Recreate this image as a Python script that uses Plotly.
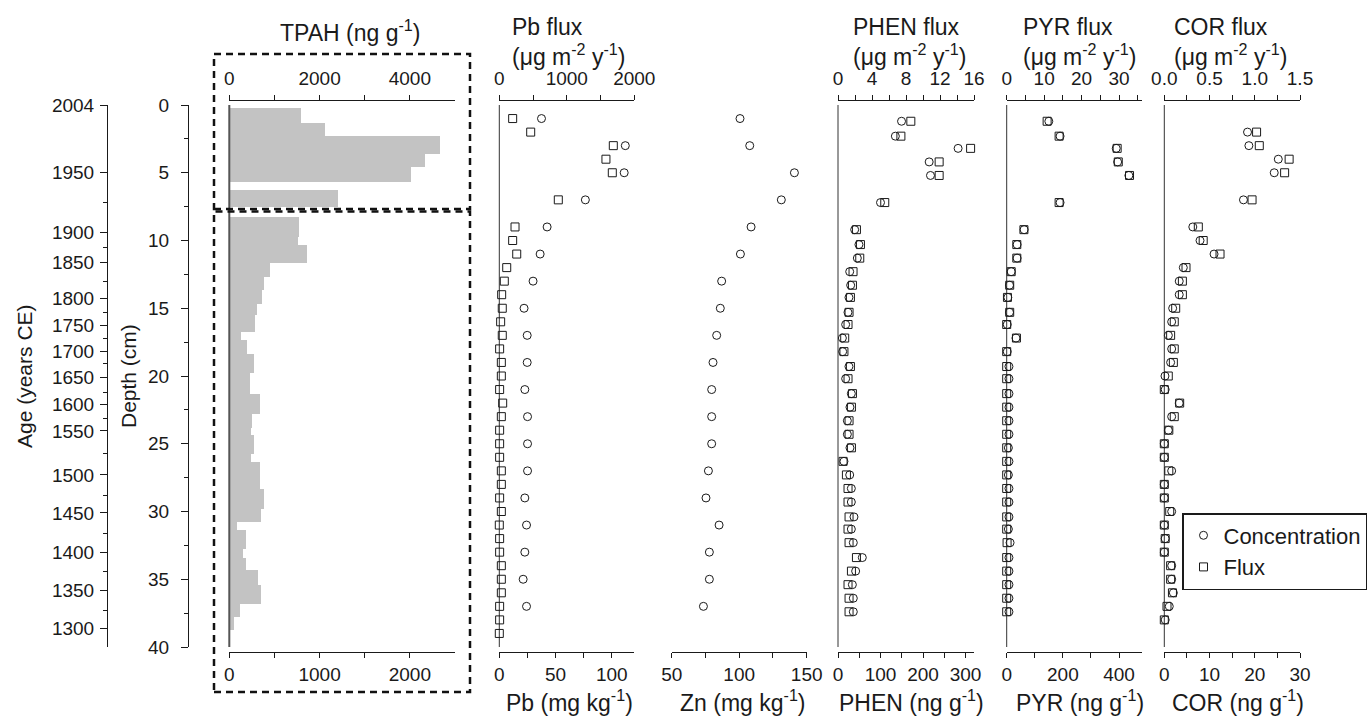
import plotly.graph_objects as go

W, H = 1369, 719

# ---------------- data ----------------
age_years = [2004, 1950, 1900, 1850, 1800, 1750, 1700, 1650, 1600, 1550, 1500, 1450, 1400, 1350, 1300]
age_depth = [0.0, 5.0, 9.4, 11.6, 14.25, 16.25, 18.2, 20.1, 22.1, 24.05, 27.3, 30.1, 33.0, 35.8, 38.6]
age_minor_depth = [7.2, 10.5, 13.0, 15.3, 17.2, 19.05, 21.2, 23.1, 25.7, 28.8, 31.6, 34.4, 37.3]

# TPAH (ng/g) stair bars: upper section (0-5000 scale) and lower section (0-2500 scale)
tpah_top_from = [0.25, 1.3, 2.3, 3.6, 4.6, 6.3]
tpah_top_to = [1.3, 2.3, 3.6, 4.6, 5.65, 7.55]
tpah_top_val = [1590, 2130, 4680, 4350, 4040, 2410]

tpah_bot_edges = [8.25, 9.73, 10.34, 11.69, 12.68, 13.66, 14.65, 15.51, 16.74, 17.36, 18.34,
                  19.75, 21.35, 22.77, 23.81, 24.37, 25.78, 26.35, 28.31, 29.79, 30.78, 31.39,
                  32.74, 33.41, 34.34, 35.45, 36.8, 37.79, 38.77]
tpah_bot_val = [779, 765, 860, 449, 386, 360, 309, 290, 132, 199, 279, 228, 346, 254, 239,
                279, 239, 346, 386, 357, 92, 184, 154, 184, 320, 357, 118, 51]

# Pb / Zn
metal_conc_depth = [1, 3, 5, 7, 9, 11, 13, 15, 17, 19, 21, 23, 25, 27, 29, 31, 33, 35, 37]
pb_conc = [37.5, 112, 111, 76.5, 42.5, 36.3, 30, 22, 24.8, 24.8, 22.7, 25.1, 25.1, 25.1,
           22.7, 24.2, 22.7, 21.2, 24.2]
zn_conc = [100.6, 107.8, 140.9, 131.2, 108.8, 100.9, 87.0, 86.0, 83.3, 80.6, 79.6, 79.6,
           79.6, 77.2, 75.4, 85.1, 77.9, 77.9, 73.5]
pb_flux_depth = [1, 2, 3, 4, 5, 7, 9, 10, 11, 12, 13, 14, 15, 16, 17, 18, 19, 20, 21, 22, 23,
                 24, 25, 26, 27, 28, 29, 30, 31, 32, 33, 34, 35, 36, 37, 38, 39]
pb_flux = [198, 465, 1689, 1580, 1674, 874, 233, 198, 258, 110, 74, 35, 44, 20, 44, 5, 30,
           30, 5, 50, 30, 5, 5, 5, 30, 30, 5, 30, 0, 5, 5, 30, 30, 30, 5, 5, 0]

# PAHs
pah_depth = [1.2, 2.3, 3.2, 4.2, 5.2, 7.2, 9.2, 10.3, 11.3, 12.3, 13.3, 14.2, 15.3, 16.2,
             17.2, 18.2, 19.3, 20.2, 21.3, 22.3, 23.3, 24.3, 25.3, 26.3, 27.3, 28.3, 29.3,
             30.4, 31.3, 32.3, 33.4, 34.4, 35.4, 36.4, 37.4]
phen_conc = [149.5, 135, 282.6, 214.5, 217.6, 100, 39.2, 49.3, 45.5, 27.5, 29.8, 25.8, 23.5,
             18, 10.3, 11, 25.8, 18, 31.4, 28.2, 22, 22, 28.2, 14, 27.5, 31.4, 31.4, 37.6,
             31.4, 36, 57.2, 41.5, 33.8, 36, 36]
phen_flux = [8.57, 7.4, 15.6, 11.9, 11.9, 5.5, 2.17, 2.64, 2.56, 1.77, 1.7, 1.46, 1.3, 1.18,
             0.79, 0.7, 1.46, 1.18, 1.7, 1.58, 1.3, 1.3, 1.58, 0.6, 0.99, 1.18, 1.18, 1.3,
             1.18, 1.3, 2.17, 1.58, 1.18, 1.3, 1.3]
pyr_conc = [150, 190, 390, 395, 435, 190, 62, 37, 37, 16, 10, 4, 10, 2, 33, 2, 8, 8, 8, 8,
            8, 8, 6, 8, 6, 8, 8, 8, 6, 12, 8, 8, 8, 8, 8]
pyr_flux = [10.8, 14.0, 29.5, 29.8, 32.8, 14.0, 4.6, 2.7, 2.7, 1.2, 0.8, 0.2, 0.8, 0.0, 2.6,
            0.0, 0.0, 0.0, 0.0, 0.0, 0.0, 0.0, 0.0, 0.0, 0.0, 0.0, 0.0, 0.0, 0.0, 0.1, 0.0,
            0.0, 0.0, 0.0, 0.0]
cor_depth = [2, 3, 4, 5, 7, 9, 10, 11, 12, 13, 14, 15, 16, 17, 18, 19, 20, 21, 22, 23, 24,
             25, 26, 27, 28, 29, 30, 31, 32, 33, 34, 35, 36, 37, 38]
cor_conc = [18.4, 18.7, 25.2, 24.3, 17.5, 6.3, 7.9, 11.0, 4.2, 3.3, 3.3, 1.85, 1.63, 0.9,
            1.63, 1.4, 0.15, 0.2, 3.3, 1.63, 0.9, 0, 0, 1.63, 0, 0, 1.63, 0, 0.2, 0, 1.63,
            1.63, 2.0, 1.1, 0.2]
cor_flux = [1.02, 1.05, 1.38, 1.33, 0.97, 0.376, 0.43, 0.616, 0.24, 0.2, 0.2, 0.126, 0.11,
            0.07, 0.11, 0.1, 0.044, 0.0, 0.17, 0.11, 0.05, 0, 0, 0.05, 0, 0, 0.06, 0, 0.01,
            0, 0.07, 0.07, 0.09, 0.03, 0]

# ---------------- styling helpers ----------------
FONT = "Liberation Sans, Arial, Helvetica, sans-serif"
INK = "#1a1a1a"
TICK_FS = 19
TITLE_FS = 23
TOP_AX_Y = 100
BOT_AX_Y = 651.7


def px_x(p):
    return p / W


def px_y(p):
    return 1 - p / H


def xax(dom, rng, tickvals, ticktext, side, show_labels=True):
    return dict(
        domain=[px_x(dom[0]), px_x(dom[1])], range=rng, anchor="free",
        position=px_y(TOP_AX_Y if side == "top" else BOT_AX_Y), side=side,
        tickmode="array", tickvals=tickvals, ticktext=ticktext,
        ticks="outside", ticklen=5, tickwidth=1, tickcolor=INK,
        showline=True, linecolor=INK, linewidth=1,
        showgrid=False, zeroline=False, showticklabels=show_labels, automargin=False,
        ticklabelstandoff=(2 if side == "top" else 0),
        tickfont=dict(size=TICK_FS, color=INK, family=FONT), fixedrange=True,
    )


fig = go.Figure()

# TPAH bars
fig.add_trace(go.Bar(
    orientation="h", xaxis="x", yaxis="y",
    x=tpah_top_val,
    y=[(a + b) / 2 for a, b in zip(tpah_top_from, tpah_top_to)],
    width=[b - a for a, b in zip(tpah_top_from, tpah_top_to)],
    marker=dict(color="#c3c3c3", line=dict(width=0)), showlegend=False, hoverinfo="skip",
))
fig.add_trace(go.Bar(
    orientation="h", xaxis="x2", yaxis="y",
    x=tpah_bot_val,
    y=[(a + b) / 2 for a, b in zip(tpah_bot_edges[:-1], tpah_bot_edges[1:])],
    width=[b - a for a, b in zip(tpah_bot_edges[:-1], tpah_bot_edges[1:])],
    marker=dict(color="#c3c3c3", line=dict(width=0)), showlegend=False, hoverinfo="skip",
))

MS = 8
circ = dict(symbol="circle-open", size=MS, color=INK, line=dict(width=1, color=INK))
sq = dict(symbol="square-open", size=MS, color=INK, line=dict(width=1, color=INK))


def pts(x, y, xa, marker, name=None, legend=False):
    fig.add_trace(go.Scatter(
        x=x, y=y, xaxis=xa, yaxis="y", mode="markers", marker=marker,
        name=name, showlegend=legend, cliponaxis=False, hoverinfo="skip",
    ))


# Pb
pts(pb_conc, metal_conc_depth, "x4", circ, "Concentration", True)
pts(pb_flux, pb_flux_depth, "x3", sq, "Flux", True)
# Zn
pts(zn_conc, metal_conc_depth, "x6", circ)
# PHEN
pts(phen_conc, pah_depth, "x8", circ)
pts(phen_flux, pah_depth, "x7", sq)
# PYR
pts(pyr_conc, pah_depth, "x10", circ)
pts(pyr_flux, pah_depth, "x9", sq)
# COR
pts(cor_conc, cor_depth, "x12", circ)
pts(cor_flux, cor_depth, "x11", sq)

# age axis carrier
fig.add_trace(go.Scatter(x=[None], y=[None], xaxis="x", yaxis="y2", mode="markers",
                         showlegend=False, hoverinfo="skip"))

# ---------------- axes ----------------
dom_tpah = (229.3, 455)
dom_pb = (499.3, 634.3)
dom_zn = (671.7, 806.7)
dom_phen = (838.0, 974.0)
dom_pyr = (1006.7, 1141.5)
dom_cor = (1164.3, 1300.0)

layout_axes = dict(
    xaxis=xax(dom_tpah, [0, 5000], [0, 1000, 2000, 3000, 4000], ["0", "", "2000", "", "4000"], "top"),
    xaxis2=xax(dom_tpah, [0, 2500], [0, 500, 1000, 1500, 2000], ["0", "", "1000", "", "2000"], "bottom"),
    xaxis3=xax(dom_pb, [0, 2000], [0, 500, 1000, 1500, 2000], ["0", "", "1000", "", "2000"], "top"),
    xaxis4=xax(dom_pb, [0, 120], [0, 25, 50, 75, 100], ["0", "", "50", "", "100"], "bottom"),
    xaxis5=xax(dom_zn, [50, 150], [50, 75, 100, 125, 150], ["", "", "", "", ""], "top", False),
    xaxis6=xax(dom_zn, [50, 150], [50, 75, 100, 125, 150], ["50", "", "100", "", "150"], "bottom"),
    xaxis7=xax(dom_phen, [0, 16], [0, 2, 4, 6, 8, 10, 12, 14, 16],
               ["0", "", "4", "", "8", "", "12", "", "16"], "top"),
    xaxis8=xax(dom_phen, [0, 320], [0, 50, 100, 150, 200, 250, 300],
               ["0", "", "100", "", "200", "", "300"], "bottom"),
    xaxis9=xax(dom_pyr, [0, 36], [0, 5, 10, 15, 20, 25, 30, 35],
               ["0", "", "10", "", "20", "", "30", ""], "top"),
    xaxis10=xax(dom_pyr, [0, 480], [0, 100, 200, 300, 400], ["0", "", "200", "", "400"], "bottom"),
    xaxis11=xax(dom_cor, [0, 1.5], [0, 0.25, 0.5, 0.75, 1.0, 1.25, 1.5],
                ["0.0", "", "0.5", "", "1.0", "", "1.5"], "top"),
    xaxis12=xax(dom_cor, [0, 30], [0, 5, 10, 15, 20, 25, 30],
                ["0", "", "10", "", "20", "", "30"], "bottom"),
)

ydom = [px_y(647), px_y(105)]
layout_axes["yaxis"] = dict(
    domain=ydom, range=[40, 0], anchor="free", position=px_x(188), side="left",
    tickmode="linear", tick0=0, dtick=5, ticks="outside", ticklen=7, tickwidth=1,
    tickcolor=INK, showline=True, linecolor=INK, linewidth=1, showgrid=False,
    zeroline=False, automargin=False,
    tickfont=dict(size=TICK_FS, color=INK, family=FONT), ticklabelstandoff=8,
    minor=dict(dtick=2.5, ticks="outside", ticklen=4, tickcolor=INK, showgrid=False),
    fixedrange=True,
)
layout_axes["yaxis2"] = dict(
    domain=ydom, range=[40, 0], overlaying="y", anchor="free", position=px_x(107),
    side="left", tickmode="array", tickvals=age_depth, ticktext=[str(a) for a in age_years],
    ticks="outside", ticklen=7, tickwidth=1, tickcolor=INK, showline=True, linecolor=INK,
    linewidth=1, showgrid=False, zeroline=False, automargin=False,
    tickfont=dict(size=TICK_FS, color=INK, family=FONT), ticklabelstandoff=2,
    minor=dict(tickvals=age_minor_depth, ticks="outside", ticklen=4, tickcolor=INK,
               showgrid=False),
    fixedrange=True,
)

# ---------------- shapes ----------------
shapes = []
# zero / left baseline of each panel
shapes.append(dict(type="line", xref="x domain", yref="y domain", x0=0, x1=0, y0=0, y1=1,
                   line=dict(color="#555555", width=2), layer="above"))
for ax in ["x3", "x5", "x7", "x9", "x11"]:
    shapes.append(dict(type="line", xref=f"{ax} domain", yref="y domain", x0=0, x1=0,
                       y0=0, y1=1, line=dict(color="#333333", width=1), layer="below"))
# dashed frames around TPAH sections
for y0p, y1p in [(54, 209), (211.5, 692)]:
    shapes.append(dict(type="rect", xref="paper", yref="paper",
                       x0=px_x(214), x1=px_x(470), y0=px_y(y1p), y1=px_y(y0p),
                       line=dict(color="#111111", width=2.5, dash="7px,5px"),
                       fillcolor="rgba(0,0,0,0)"))

# ---------------- annotations ----------------
ann = []


def txt(s, x, y, xanchor="center", angle=0, align="center", size=TITLE_FS):
    ann.append(dict(text=s, x=px_x(x), y=px_y(y), xref="paper", yref="paper",
                    xanchor=xanchor, yanchor="middle", showarrow=False, textangle=angle,
                    align=align, font=dict(size=size, color=INK, family=FONT)))


txt("TPAH (ng g<sup>-1</sup>)", 350, 31)
for name, x in [("Pb", 510), ("PHEN", 851), ("PYR", 1021), ("COR", 1172)]:
    txt(f"{name} flux<br>(μg m<sup>-2</sup> y<sup>-1</sup>)", x, 42.5, xanchor="left", align="left")
txt("Pb (mg kg<sup>-1</sup>)", 569, 701)
txt("Zn (mg kg<sup>-1</sup>)", 743, 701)
txt("PHEN (ng g<sup>-1</sup>)", 911, 701)
txt("PYR (ng g<sup>-1</sup>)", 1080, 701)
txt("COR (ng g<sup>-1</sup>)", 1238, 701)
txt("Depth (cm)", 128, 376, angle=-90, size=21)
txt("Age (years CE)", 24, 376, angle=-90, size=21)

fig.update_layout(
    width=W, height=H, autosize=False,
    margin=dict(l=0, r=0, t=0, b=0, pad=0, autoexpand=False),
    paper_bgcolor="white", plot_bgcolor="rgba(0,0,0,0)",
    font=dict(family=FONT, size=TICK_FS, color=INK),
    barmode="overlay", bargap=0,
    showlegend=True,
    legend=dict(x=px_x(1182), y=px_y(513), xanchor="left", yanchor="top",
                bgcolor="white", bordercolor=INK, borderwidth=1.5,
                font=dict(size=22, color=INK, family=FONT), itemsizing="trace",
                tracegroupgap=0),
    shapes=shapes, annotations=ann,
    **layout_axes,
)

fig.write_html("out.html")
